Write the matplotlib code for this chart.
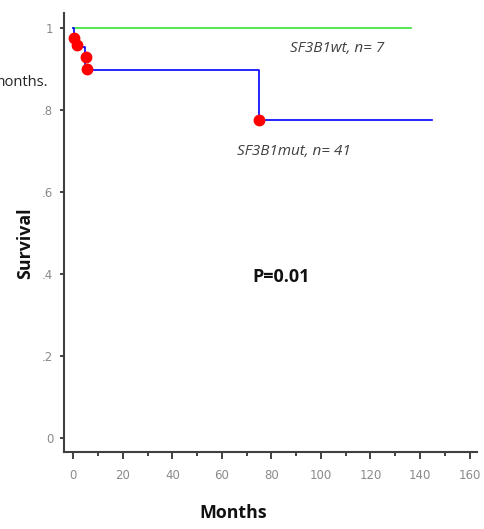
import matplotlib.pyplot as plt
from matplotlib.ticker import MultipleLocator, FixedLocator
from matplotlib import font_manager

# ---------- data ----------
wt_months = [0, 136.5]
wt_surv = [1.0, 1.0]

mut_months = [0, 0.3, 4.7, 75, 145]
mut_surv = [1.0, 0.954, 0.899, 0.776, 0.776]

cens_months = [0.4, 1.4, 5.1, 5.6, 75]
cens_surv = [0.977, 0.958, 0.930, 0.900, 0.776]

x_ticks = [0, 20, 40, 60, 80, 100, 120, 140, 160]
y_ticks = [0, 0.2, 0.4, 0.6, 0.8, 1.0]
y_labels = ["0", ".2", ".4", ".6", ".8", "1"]

# narrow face for the tick labels, if one is around
installed = {f.name for f in font_manager.fontManager.ttflist}
tick_font = [f for f in ['Liberation Sans Narrow', 'DejaVu Sans Condensed'] if f in installed] + ['DejaVu Sans']
lab_font = ['Open Sans', 'DejaVu Sans']

# ---------- figure ----------
fig = plt.figure(figsize=(4.85, 5.29), dpi=100, facecolor='white')
ax = fig.add_axes([0.1326, 0.145, 0.8509, 0.8304])

ax.plot(wt_months, wt_surv, color='#33e633', lw=1.2)
ax.step(mut_months, mut_surv, where='post', color='#0000ff', lw=1.2)
ax.plot(cens_months, cens_surv, 'o', color='red', ms=7.5, mec='red', zorder=5)

ax.set_xlim(-3.6, 163)
ax.set_ylim(-0.035, 1.037)

for s in ['top', 'right']:
    ax.spines[s].set_visible(False)
for s in ['left', 'bottom']:
    ax.spines[s].set_color('#404040')
    ax.spines[s].set_linewidth(1.5)

ax.xaxis.set_major_locator(FixedLocator(x_ticks))
ax.xaxis.set_minor_locator(MultipleLocator(10))
ax.set_yticks(y_ticks)
ax.set_yticklabels(y_labels)

ax.tick_params(axis='x', which='major', length=5, width=1.2, color='#202020',
               labelcolor='#8a8a8a', labelsize=8.5, pad=7)
ax.tick_params(axis='x', which='minor', length=3, width=1.2, color='#202020')
ax.tick_params(axis='y', length=3, width=1.2, color='#202020',
               labelcolor='#8a8a8a', labelsize=8.5, pad=5)
for lab in ax.get_xticklabels() + ax.get_yticklabels():
    lab.set_family(tick_font)

fig.text(25 / 485, 1 - 243 / 529, "Survival", rotation=90, ha='center', va='center',
         fontsize=12.8, fontweight='bold', family=lab_font, color='#111111')
fig.text(233 / 485, 1 - 513 / 529, "Months", ha='center', va='center',
         fontsize=12.8, fontweight='bold', family=lab_font, color='#111111')
fig.text(281 / 485, 1 - 277 / 529, "P=0.01", ha='center', va='center',
         fontsize=13, fontweight='bold', family=lab_font, color='#111111')

fig.text(290 / 485, 1 - 48 / 529, "SF3B1wt, n= 7", ha='left', va='center',
         fontsize=11, style='italic', family=lab_font, color='#404040')
fig.text(237 / 485, 1 - 151 / 529, "SF3B1mut, n= 41", ha='left', va='center',
         fontsize=11, style='italic', family=lab_font, color='#404040')

# cut-off text from the neighbouring panel
fig.text(48 / 485, 1 - 83 / 529, "months.", ha='right', va='center',
         fontsize=10.5, family=lab_font, color='#222222')

fig.savefig("out.png", dpi=100, facecolor='white')
